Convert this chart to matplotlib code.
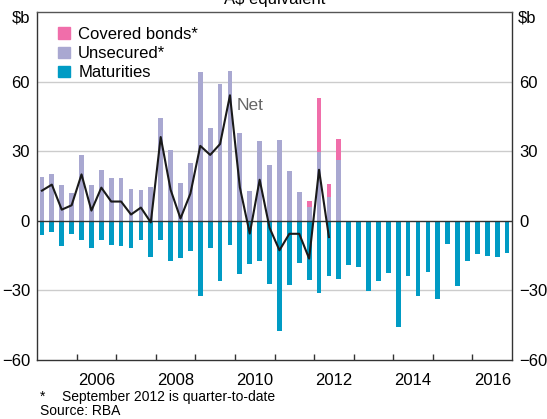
import matplotlib.pyplot as plt
import numpy as np
from matplotlib.patches import Patch

plt.rcParams["font.family"] = ["Liberation Sans", "DejaVu Sans"]

# quarterly data, 2005 Q1 to 2016 Q4 (A$b)
quarters = np.arange(48)

unsecured = [19.0, 20.3, 15.6, 12.1, 28.4, 15.6, 22.0, 18.6, 18.6, 13.9, 13.4, 14.7,
             44.3, 30.6, 16.4, 25.0, 64.0, 40.0, 58.8, 64.4, 37.8, 13.0, 34.4, 24.1,
             34.8, 21.6, 12.6, 5.9, 29.7, 10.4, 26.3]
covered = [0.0] * 27 + [2.8, 23.2, 5.6, 9.0]
maturities = [-6.1, -5.0, -11.0, -5.7, -8.4, -11.7, -8.4, -10.6, -11.0, -11.7, -8.4, -15.7,
              -8.4, -17.4, -16.0, -13.1, -32.4, -11.7, -25.9, -10.4, -23.0, -18.6, -17.4, -27.1,
              -47.7, -27.6, -18.1, -25.4, -31.0, -23.7, -25.0, -19.0, -19.9, -30.2, -25.9, -22.4,
              -45.6, -23.7, -32.3, -22.0, -33.7, -10.0, -28.0, -17.3, -14.3, -15.1, -15.6, -13.9]
net = [13.0, 15.6, 4.8, 6.7, 20.0, 4.4, 14.3, 8.3, 8.3, 2.7, 5.7, -0.7,
       36.1, 13.4, 1.0, 11.7, 32.3, 28.4, 33.1, 54.1, 14.4, -5.5, 17.7, -3.0,
       -12.7, -5.6, -5.6, -16.3, 22.0, -7.0]

year_ticks = list(range(2006, 2017))
year_labels = ["2006", "2008", "2010", "2012", "2014", "2016"]

c_unsec = "#a9a8d1"
c_cov = "#f06eaa"
c_mat = "#009bc4"

fig = plt.figure(figsize=(5.47, 4.19), dpi=100)
ax = fig.add_axes([37 / 547, 1 - 360 / 419, 475 / 547, 348 / 419])

x = 2005 + (quarters + 0.5) / 4
w = 0.12

n_iss = len(unsecured)
ax.bar(x[:n_iss], unsecured, width=w, color=c_unsec, zorder=2)
ax.bar(x[:n_iss], covered, width=w, bottom=unsecured, color=c_cov, zorder=2)
ax.bar(x, maturities, width=w, color=c_mat, zorder=2)
ax.plot(x[:len(net)], net, color="#1a1a1a", lw=1.5, zorder=4)

# grid and zero line
for g in [-30, 30, 60]:
    ax.axhline(g, color="#cccccc", lw=1, zorder=1)
ax.axhline(0, color="#333333", lw=1, zorder=3)

ax.set_xlim(2005, 2017)
ax.set_ylim(-60, 90)

ax.set_yticks([-60, -30, 0, 30, 60])
ax.tick_params(axis="y", length=0, labelsize=12, pad=5, labelright=True, right=False)
ax.set_xticks(year_ticks)
ax.set_xticklabels([])
ax.tick_params(axis="x", which="major", direction="in", length=4, width=1, color="#333333")
ax.set_xticks([int(y) + 0.5 for y in year_labels], minor=True)
ax.set_xticklabels(year_labels, minor=True)
ax.tick_params(axis="x", which="minor", length=0, labelsize=12, pad=9.5)

for s in ax.spines.values():
    s.set_color("#333333")
    s.set_linewidth(1)
ax.spines["top"].set_color("#555555")

fig.text(30 / 547, 1 - 18 / 419, "$b", ha="right", va="center", fontsize=12)
fig.text(518 / 547, 1 - 18 / 419, "$b", ha="left", va="center", fontsize=12)
fig.text(ax.get_position().x0 + ax.get_position().width / 2, 1 - 4 / 419,
         "A$ equivalent", ha="center", va="baseline", fontsize=12)

ax.text(2010.05, 49.5, "Net", fontsize=12.5, color="#666666", va="center")

handles = [Patch(color=c_cov, label="Covered bonds*"),
           Patch(color=c_unsec, label="Unsecured*"),
           Patch(color=c_mat, label="Maturities")]
ax.legend(handles=handles, loc="upper left", frameon=False, fontsize=12,
          handlelength=0.7, handleheight=0.7, handletextpad=0.5,
          labelspacing=0.25, borderaxespad=0.3, bbox_to_anchor=(0.02, 0.99))

fig.text(40 / 547, 1 - 397 / 419, "*", fontsize=10, va="center")
fig.text(62 / 547, 1 - 397 / 419, "September 2012 is quarter-to-date", fontsize=10, va="center")
fig.text(40 / 547, 1 - 411 / 419, "Source: RBA", fontsize=10, va="center")

fig.savefig("out.png", dpi=100)
